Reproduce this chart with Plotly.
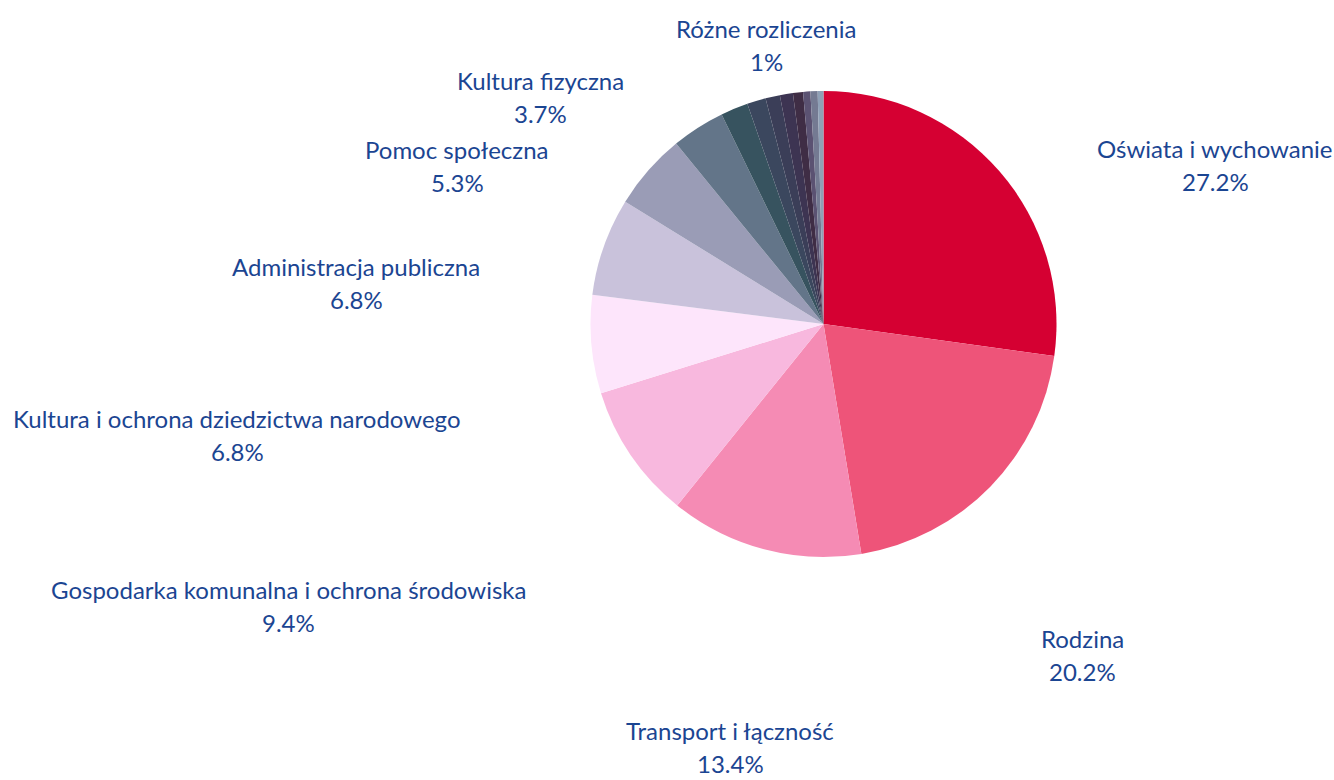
import plotly.graph_objects as go

# Data
categories = [
    "Oświata i wychowanie",
    "Rodzina",
    "Transport i łączność",
    "Gospodarka komunalna i ochrona środowiska",
    "Kultura i ochrona dziedzictwa narodowego",
    "Administracja publiczna",
    "Pomoc społeczna",
    "Kultura fizyczna",
    "Gospodarka mieszkaniowa",
    "Bezpieczeństwo publiczne i ochrona przeciwpożarowa",
    "Różne rozliczenia",
    "Ochrona zdrowia",
    "Działalność usługowa",
    "Obsługa długu publicznego",
    "Turystyka",
    "Pozostałe",
]
shares = [27.2, 20.2, 13.4, 9.4, 6.8, 6.8, 5.3, 3.7, 1.9, 1.3, 1.0, 0.9, 0.7, 0.5, 0.5, 0.4]

# Styles
colors = [
    "#D50032", "#EE5479", "#F58BB4", "#F8B8DE", "#FDE5FB", "#C9C2DB",
    "#9A9CB6", "#637589", "#37535F", "#3B475E", "#3B3E58", "#3D3452",
    "#3F2D45", "#5B5272", "#747A92", "#8FA0B6",
]
W, H = 1334, 780
# label centres (px) for labelled slices
label_pos = {
    "Oświata i wychowanie": (1215, 165),
    "Rodzina": (1082, 655),
    "Transport i łączność": (730, 747),
    "Gospodarka komunalna i ochrona środowiska": (288, 606),
    "Kultura i ochrona dziedzictwa narodowego": (237, 435),
    "Administracja publiczna": (356, 283),
    "Pomoc społeczna": (457, 166),
    "Kultura fizyczna": (540, 97),
    "Różne rozliczenia": (766, 45),
}
line_gap = 33
cx, cy, r = 823.5, 324, 233
font = dict(family="Lato, 'Open Sans', sans-serif", size=24, color="#1B4592")

fig = go.Figure(go.Pie(
    labels=categories,
    values=shares,
    sort=False,
    direction="clockwise",
    rotation=0,
    marker=dict(colors=colors, line=dict(width=0)),
    textinfo="none",
    hovertemplate="%{label}<br>%{value}%<extra></extra>",
    domain=dict(x=[(cx - r) / W, (cx + r) / W], y=[1 - (cy + r) / H, 1 - (cy - r) / H]),
    showlegend=False,
))

annotations = []
for name, val in zip(categories, shares):
    if name in label_pos:
        px, py = label_pos[name]
        for txt, dy in ((name, -line_gap / 2), (f"{val:g}%", line_gap / 2)):
            annotations.append(dict(
                x=px / W, y=1 - (py + dy) / H, xref="paper", yref="paper",
                xanchor="center", yanchor="middle", showarrow=False,
                text=txt, font=font,
            ))

fig.update_layout(
    width=W, height=H,
    margin=dict(l=0, r=0, t=0, b=0),
    paper_bgcolor="white",
    plot_bgcolor="white",
    annotations=annotations,
)

fig.write_html(
    "out.html",
    config={"displayModeBar": False},
    post_script="document.body.style.margin='0';document.body.style.overflow='hidden';",
)
